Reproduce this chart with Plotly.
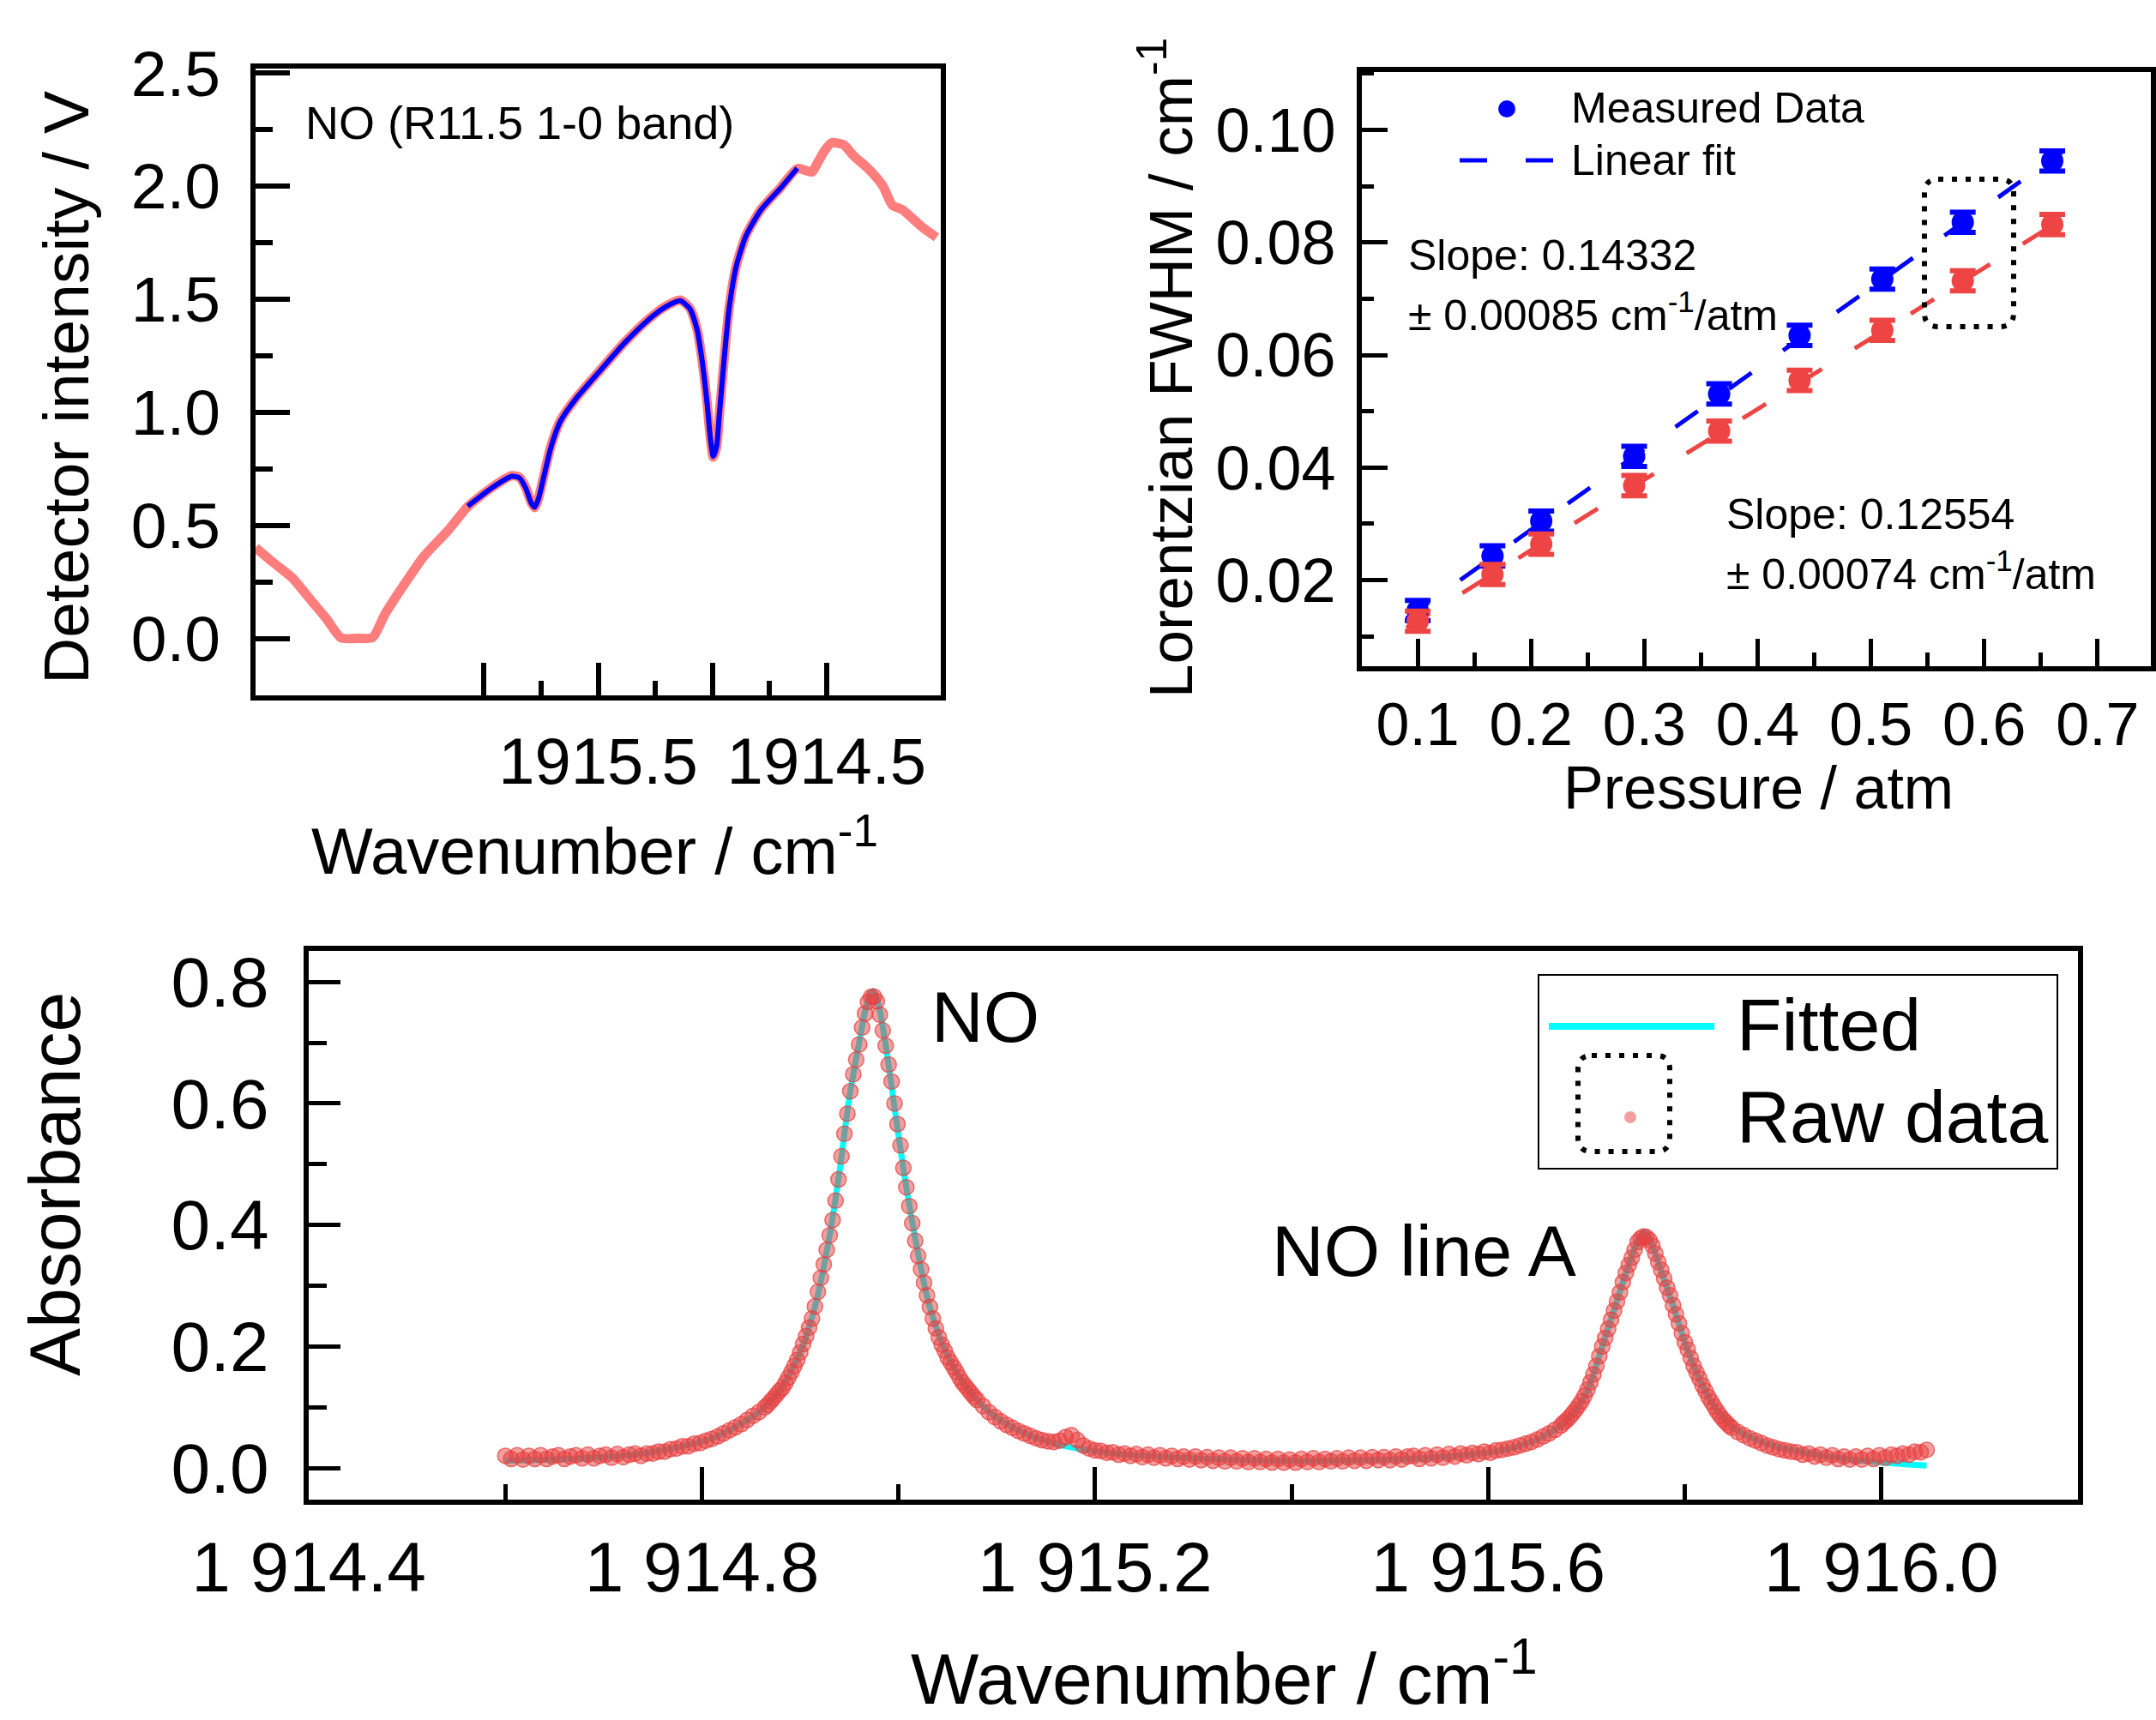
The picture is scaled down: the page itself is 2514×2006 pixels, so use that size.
import plotly.graph_objects as go

W, H = 2514, 2006
FONT = "Liberation Sans, Arial, sans-serif"

# ---------------- Panel (a): detector intensity ----------------
det_raw_x = [1917.00, 1916.92, 1916.84, 1916.754, 1916.69, 1916.626, 1916.56, 1916.487, 1916.434,
             1916.348, 1916.263, 1916.156, 1916.071, 1915.964, 1915.878, 1915.846, 1915.818, 1915.793,
             1915.778, 1915.761, 1915.739, 1915.707, 1915.665, 1915.600, 1915.494, 1915.387, 1915.280,
             1915.205, 1915.141, 1915.098, 1915.066, 1915.045, 1915.023, 1915.009, 1914.996, 1914.981,
             1914.970, 1914.949, 1914.927, 1914.895, 1914.853, 1914.788, 1914.703, 1914.628, 1914.564,
             1914.543, 1914.511, 1914.479, 1914.425, 1914.382, 1914.318, 1914.254, 1914.212, 1914.169,
             1914.083, 1914.019]
det_raw_y = [0.403, 0.335, 0.270, 0.166, 0.089, 0.004, 0.002, 0.006, 0.108,
             0.242, 0.365, 0.480, 0.584, 0.670, 0.721, 0.714, 0.670, 0.603,
             0.580, 0.622, 0.717, 0.851, 0.965, 1.060, 1.184, 1.307, 1.412,
             1.469, 1.497, 1.460, 1.364, 1.231, 1.041, 0.889, 0.803, 0.851,
             0.984, 1.231, 1.460, 1.650, 1.783, 1.897, 1.992, 2.078, 2.063,
             2.097, 2.154, 2.192, 2.183, 2.135, 2.078, 2.002, 1.916, 1.897,
             1.821, 1.774]
det_fit_x = [1916.071, 1915.964, 1915.878, 1915.846, 1915.818, 1915.793, 1915.778, 1915.761,
             1915.739, 1915.707, 1915.665, 1915.600, 1915.494, 1915.387, 1915.280, 1915.205,
             1915.141, 1915.098, 1915.066, 1915.045, 1915.023, 1915.009, 1914.996, 1914.981,
             1914.970, 1914.949, 1914.927, 1914.895, 1914.853, 1914.788, 1914.703, 1914.628]
det_fit_y = [0.586, 0.668, 0.718, 0.712, 0.668, 0.600, 0.582, 0.620,
             0.712, 0.846, 0.962, 1.058, 1.182, 1.305, 1.410, 1.467,
             1.494, 1.458, 1.362, 1.229, 1.040, 0.888, 0.806, 0.853,
             0.985, 1.230, 1.457, 1.648, 1.781, 1.895, 1.990, 2.080]
det_xtick_vals = [1916.0, 1915.5, 1915.0, 1914.5]
det_xtick_text = ["", "1915.5", "", "1914.5"]
det_xminor_vals = [1915.75, 1915.25, 1914.75]

# ---------------- Panel (b): Lorentzian FWHM vs pressure ----------------
pressure = [0.100, 0.166, 0.209, 0.291, 0.366, 0.437, 0.510, 0.581, 0.660]
fwhm_blue = [0.0146, 0.0243, 0.0305, 0.0420, 0.0531, 0.0635, 0.0735, 0.0836, 0.0945]
fwhm_red = [0.0127, 0.0210, 0.0264, 0.0368, 0.0465, 0.0555, 0.0644, 0.0732, 0.0832]
fwhm_err = [0.0018] * 9
fit_p = [0.090, 0.670]
fit_blue = [0.0132, 0.0963]
fit_red = [0.0115, 0.0843]

# ---------------- Panel (c): absorbance ----------------
# raw spectrum: segments on a uniform wavenumber grid (start, step) with read values
raw_a_start, raw_a_step = 1914.600, 0.006
raw_a_y = [0.020, 0.015, 0.021, 0.014, 0.020, 0.015, 0.021, 0.015, 0.019, 0.021,
           0.015, 0.019, 0.021, 0.016, 0.022, 0.016, 0.020, 0.022, 0.017, 0.023,
           0.018, 0.022, 0.024, 0.020, 0.024, 0.024, 0.027, 0.027, 0.031, 0.032,
           0.036, 0.036, 0.040, 0.041, 0.045, 0.048, 0.052, 0.057, 0.062, 0.067,
           0.072, 0.079, 0.086, 0.092, 0.100]
raw_b_start, raw_b_step = 1914.867, 0.003
raw_b_y = [0.104, 0.110, 0.115, 0.121, 0.127, 0.132, 0.140, 0.149, 0.158, 0.168,
           0.178, 0.190, 0.204, 0.217, 0.231, 0.246, 0.266, 0.290, 0.313, 0.335,
           0.359, 0.383, 0.408, 0.440, 0.475, 0.513, 0.550, 0.583, 0.620, 0.648,
           0.672, 0.697, 0.725, 0.748, 0.767, 0.775, 0.776, 0.768, 0.746, 0.720,
           0.695, 0.664, 0.636, 0.600, 0.566, 0.531, 0.494, 0.462, 0.431, 0.403,
           0.374, 0.349, 0.327, 0.305, 0.284, 0.265, 0.246, 0.230, 0.215, 0.203,
           0.193, 0.182, 0.174, 0.166, 0.158, 0.149, 0.141, 0.135, 0.129, 0.123,
           0.117, 0.112]
raw_c_start, raw_c_step = 1915.086, 0.006
raw_c_y = [0.102, 0.092, 0.084, 0.077, 0.071, 0.066, 0.061, 0.057, 0.053, 0.049,
           0.046, 0.044, 0.043, 0.045, 0.051, 0.054, 0.046, 0.037, 0.032, 0.029,
           0.028, 0.025, 0.026, 0.022, 0.024, 0.020, 0.023, 0.018, 0.022, 0.017,
           0.021, 0.016, 0.020, 0.015, 0.019, 0.014, 0.019, 0.013, 0.018, 0.012,
           0.017, 0.011, 0.017, 0.011, 0.016, 0.010, 0.016, 0.010, 0.015, 0.009,
           0.015, 0.009, 0.014, 0.009, 0.015, 0.010, 0.016, 0.010, 0.015, 0.011,
           0.016, 0.011, 0.017, 0.012, 0.017, 0.012, 0.018, 0.013, 0.018, 0.013,
           0.019, 0.014, 0.019, 0.020, 0.015, 0.021, 0.016, 0.022, 0.017, 0.023,
           0.019, 0.024, 0.021, 0.025, 0.023, 0.027, 0.025, 0.029, 0.030, 0.032,
           0.034, 0.037, 0.040, 0.043, 0.047, 0.052, 0.057, 0.063, 0.070]
raw_d_start, raw_d_step = 1915.677, 0.003
raw_d_y = [0.075, 0.079, 0.084, 0.090, 0.096, 0.103, 0.110, 0.119, 0.129, 0.141,
           0.154, 0.168, 0.184, 0.200, 0.214, 0.229, 0.244, 0.259, 0.274, 0.289,
           0.306, 0.321, 0.334, 0.346, 0.359, 0.372, 0.378, 0.381, 0.380, 0.375,
           0.366, 0.353, 0.339, 0.326, 0.312, 0.297, 0.284, 0.268, 0.253, 0.238,
           0.222, 0.207, 0.195, 0.181, 0.168, 0.157, 0.147, 0.136, 0.127, 0.117,
           0.109, 0.101, 0.093, 0.086, 0.080, 0.075, 0.070, 0.066]
raw_e_start, raw_e_step = 1915.854, 0.006
raw_e_y = [0.059, 0.054, 0.049, 0.045, 0.041, 0.037, 0.034, 0.031, 0.029, 0.027,
           0.026, 0.022, 0.024, 0.019, 0.022, 0.017, 0.021, 0.015, 0.019, 0.014,
           0.019, 0.014, 0.020, 0.015, 0.021, 0.017, 0.022, 0.020, 0.024, 0.022,
           0.027, 0.026, 0.030]

fit_x = [1914.600, 1914.650, 1914.700, 1914.740, 1914.780, 1914.810, 1914.840, 1914.860,
         1914.880, 1914.900, 1914.915, 1914.930, 1914.940, 1914.950, 1914.960, 1914.968,
         1914.974, 1914.980, 1914.988, 1914.998, 1915.008, 1915.018, 1915.030, 1915.045,
         1915.060, 1915.080, 1915.100, 1915.130, 1915.170, 1915.220, 1915.300, 1915.400,
         1915.500, 1915.560, 1915.610, 1915.650, 1915.680, 1915.700, 1915.715, 1915.730,
         1915.742, 1915.752, 1915.759, 1915.766, 1915.776, 1915.788, 1915.800, 1915.815,
         1915.830, 1915.850, 1915.880, 1915.920, 1915.970, 1916.010, 1916.046]
fit_y = [0.012, 0.014, 0.018, 0.024, 0.036, 0.049, 0.073, 0.095,
         0.130, 0.190, 0.265, 0.383, 0.488, 0.610, 0.700, 0.765,
         0.785, 0.760, 0.685, 0.570, 0.462, 0.370, 0.276, 0.203,
         0.155, 0.112, 0.083, 0.056, 0.036, 0.024, 0.016, 0.012,
         0.014, 0.019, 0.028, 0.047, 0.078, 0.123, 0.195, 0.270,
         0.330, 0.373, 0.389, 0.370, 0.324, 0.268, 0.207, 0.146,
         0.101, 0.066, 0.042, 0.026, 0.014, 0.008, 0.004]
abs_xtick_vals = [1914.4, 1914.8, 1915.2, 1915.6, 1916.0]
abs_xtick_text = ["1 914.4", "1 914.8", "1 915.2", "1 915.6", "1 916.0"]
abs_xminor_vals = [1914.6, 1915.0, 1915.4, 1915.8]


def grid(start, step, values):
    return [round(start + step * i, 4) for i in range(len(values))]


raw_x, raw_y = [], []
for s, d, v in [(raw_a_start, raw_a_step, raw_a_y), (raw_b_start, raw_b_step, raw_b_y),
                (raw_c_start, raw_c_step, raw_c_y), (raw_d_start, raw_d_step, raw_d_y),
                (raw_e_start, raw_e_step, raw_e_y)]:
    raw_x += grid(s, d, v)
    raw_y += v


def PX(x):
    return x / W


def PY(y):
    return 1 - y / H


fig = go.Figure()

# panel a
fig.add_trace(go.Scatter(x=det_raw_x, y=det_raw_y, mode="lines", xaxis="x", yaxis="y",
                         line=dict(color="#FF7D7D", width=11, shape="spline", smoothing=0.6),
                         showlegend=False))
fig.add_trace(go.Scatter(x=det_fit_x, y=det_fit_y, mode="lines", xaxis="x", yaxis="y",
                         line=dict(color="#0000FF", width=6, shape="spline", smoothing=0.6),
                         showlegend=False))

# panel b
DASH = "32px,45px"
fig.add_trace(go.Scatter(x=fit_p, y=fit_blue, mode="lines", xaxis="x2", yaxis="y2",
                         line=dict(color="#0000FF", width=5, dash=DASH), showlegend=False))
fig.add_trace(go.Scatter(x=fit_p, y=fit_red, mode="lines", xaxis="x2", yaxis="y2",
                         line=dict(color="#EE4444", width=5, dash=DASH), showlegend=False))
for yy, col in [(fwhm_blue, "#0000FF"), (fwhm_red, "#EE4444")]:
    fig.add_trace(go.Scatter(x=pressure, y=yy, mode="markers", xaxis="x2", yaxis="y2",
                             marker=dict(symbol="circle", size=26, color=col),
                             error_y=dict(type="data", array=fwhm_err, visible=True,
                                          color=col, thickness=6, width=15),
                             showlegend=False))

# panel c
fig.add_trace(go.Scatter(x=fit_x, y=fit_y, mode="lines", xaxis="x3", yaxis="y3",
                         line=dict(color="#00FFFF", width=7, shape="spline", smoothing=0.8),
                         showlegend=False))
fig.add_trace(go.Scatter(x=raw_x, y=raw_y, mode="markers", xaxis="x3", yaxis="y3",
                         marker=dict(size=18, color="rgba(232,64,64,0.5)",
                                     line=dict(color="rgba(232,64,64,0.75)", width=1.5)),
                         showlegend=False))

common = dict(showline=True, linecolor="black", linewidth=6, mirror=True, ticks="inside",
              tickcolor="black", showgrid=False, zeroline=False, automargin=False)

fig.update_layout(
    width=W, height=H, margin=dict(l=0, r=0, t=0, b=0, autoexpand=False),
    paper_bgcolor="white", plot_bgcolor="white",
    font=dict(family=FONT, color="black"),
    xaxis=dict(domain=[PX(298), PX(1097)], range=[1917.0, 1914.0], anchor="y",
               tickmode="array", tickvals=det_xtick_vals, ticktext=det_xtick_text,
               ticklen=38, tickwidth=6, tickfont=dict(size=76), ticklabelstandoff=6,
               minor=dict(tickmode="array", tickvals=det_xminor_vals, ticklen=17, tickwidth=6,
                          ticks="inside", tickcolor="black"),
               **common),
    yaxis=dict(domain=[PY(811), PY(80)], range=[-0.25, 2.52], anchor="x",
               tick0=0, dtick=0.5, tickformat=".1f", ticklen=40, tickwidth=6,
               tickfont=dict(size=75), ticklabelstandoff=20,
               minor=dict(tick0=0.25, dtick=0.5, ticklen=20, tickwidth=6, ticks="inside",
                          tickcolor="black"),
               **common),
    xaxis2=dict(domain=[PX(1588), PX(2508)], range=[0.0507, 0.747], anchor="y2",
                tick0=0, dtick=0.1, tickformat=".1f", ticklen=32, tickwidth=5,
                tickfont=dict(size=70), ticklabelstandoff=2,
                minor=dict(tick0=0.05, dtick=0.1, ticklen=16, tickwidth=5, ticks="inside",
                           tickcolor="black"),
                **common),
    yaxis2=dict(domain=[PY(777), PY(84)], range=[0.0047, 0.1103], anchor="x2",
                tick0=0, dtick=0.02, tickformat=".2f", ticklen=30, tickwidth=5,
                tickfont=dict(size=72), ticklabelstandoff=10,
                minor=dict(tick0=0.01, dtick=0.02, ticklen=14, tickwidth=5, ticks="inside",
                           tickcolor="black"),
                **common),
    xaxis3=dict(domain=[PX(360), PX(2423)], range=[1914.4, 1916.2], anchor="y3",
                tickmode="array", tickvals=abs_xtick_vals, ticktext=abs_xtick_text,
                ticklen=38, tickwidth=5, tickfont=dict(size=82), ticklabelstandoff=3,
                minor=dict(tickmode="array", tickvals=abs_xminor_vals, ticklen=18, tickwidth=5,
                           ticks="inside", tickcolor="black"),
                **common),
    yaxis3=dict(domain=[PY(1749), PY(1109)], range=[-0.052, 0.851], anchor="x3",
                tick0=0, dtick=0.2, tickformat=".1f", ticklen=37, tickwidth=5,
                tickfont=dict(size=82), ticklabelstandoff=24,
                minor=dict(tick0=0.1, dtick=0.2, ticklen=21, tickwidth=5, ticks="inside",
                           tickcolor="black"),
                **common),
)

ann = []


def text(x, y, s, size, xanchor="left", angle=0):
    ann.append(dict(x=PX(x), y=PY(y), xref="paper", yref="paper", text=s, showarrow=False,
                    xanchor=xanchor, yanchor="middle", textangle=angle,
                    font=dict(size=size, family=FONT, color="black")))


# axis titles
text(77, 452, "Detector intensity / V", 75, "center", -90)
text(693, 987, "Wavenumber / cm<sup>-1</sup>", 76, "center")
text(1360, 429, "Lorentzian FWHM / cm<sup>-1</sup>", 71, "center", -90)
text(2050, 919, "Pressure / atm", 70, "center")
text(64, 1381, "Absorbance", 84, "center", -90)
text(1427, 1952, "Wavenumber / cm<sup>-1</sup>", 84, "center")

# in-plot labels
text(354, 143, "NO (R11.5 1-0 band)", 54)
text(1640, 298, "Slope: 0.14332", 50)
text(1640, 364, "± 0.00085 cm<sup>-1</sup>/atm", 50)
text(2011, 600, "Slope: 0.12554", 50)
text(2011, 666, "± 0.00074 cm<sup>-1</sup>/atm", 50)
text(1084, 1186, "NO", 84)
text(1481, 1459, "NO line A", 84)

# legend (b)
text(1830, 126, "Measured Data", 50)
text(1830, 187, "Linear fit", 50)
# legend (c)
text(2023, 1195, "Fitted", 86)
text(2023, 1302, "Raw data", 86)

fig.update_layout(annotations=ann)


def rrect(x0, y0, x1, y1, r):
    pts = [("M", x0 + r, y0), ("L", x1 - r, y0), ("Q", x1, y0, x1, y0 + r), ("L", x1, y1 - r),
           ("Q", x1, y1, x1 - r, y1), ("L", x0 + r, y1), ("Q", x0, y1, x0, y1 - r),
           ("L", x0, y0 + r), ("Q", x0, y0, x0 + r, y0)]
    out = ""
    for p in pts:
        cmd = p[0]
        coords = p[1:]
        seg = []
        for i in range(0, len(coords), 2):
            seg.append(f"{PX(coords[i]):.5f},{PY(coords[i + 1]):.5f}")
        out += cmd + " ".join(seg) + " "
    return out + "Z"


shapes = [
    # legend (b)
    dict(type="circle", xref="paper", yref="paper", x0=PX(1747), x1=PX(1767), y0=PY(137), y1=PY(117),
         fillcolor="#0000FF", line=dict(width=0)),
    dict(type="line", xref="paper", yref="paper", x0=PX(1702), x1=PX(1811), y0=PY(187), y1=PY(187),
         line=dict(color="#0000FF", width=5, dash=DASH)),
    # highlight box (b)
    dict(type="path", xref="paper", yref="paper", path=rrect(2244, 209, 2348, 381, 16),
         line=dict(color="black", width=6, dash="6px,10px")),
    # legend (c)
    dict(type="rect", xref="paper", yref="paper", x0=PX(1794), x1=PX(2399), y0=PY(1363), y1=PY(1137),
         line=dict(color="black", width=2), fillcolor="rgba(0,0,0,0)"),
    dict(type="line", xref="paper", yref="paper", x0=PX(1806), x1=PX(1999), y0=PY(1197), y1=PY(1197),
         line=dict(color="#00FFFF", width=8)),
    dict(type="path", xref="paper", yref="paper", path=rrect(1840, 1231, 1947, 1343, 16),
         line=dict(color="black", width=6, dash="6px,10px")),
    dict(type="circle", xref="paper", yref="paper", x0=PX(1894), x1=PX(1908), y0=PY(1310), y1=PY(1296),
         fillcolor="#F4A0A0", line=dict(width=0)),
]
fig.update_layout(shapes=shapes)

fig.write_html("out.html", config={"displayModeBar": False},
               post_script="document.body.style.margin='0px';document.body.style.overflow='hidden';")
